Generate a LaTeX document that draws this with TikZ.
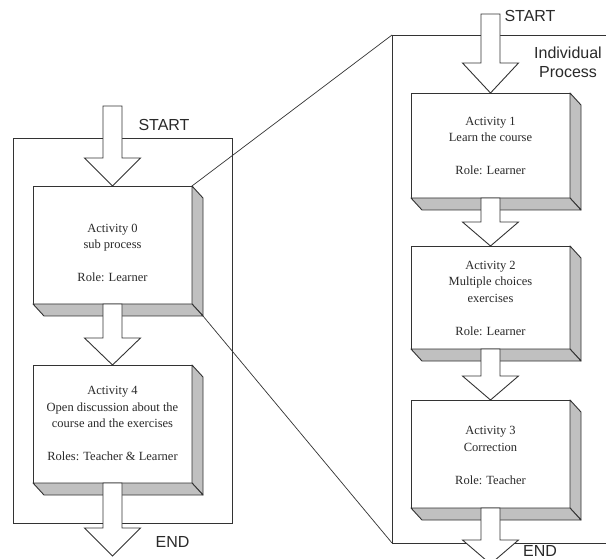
\documentclass[tikz,border=0pt]{standalone}
\usepackage{fontspec}
\setmainfont{Liberation Serif}
\newfontfamily\labelfont{Liberation Sans}
\usetikzlibrary{calc}
\definecolor{lc}{HTML}{333333}
\definecolor{sg}{HTML}{C0C0C0}
\definecolor{tc}{HTML}{2A2A2A}
\tikzset{
  actbox/.style={draw=lc, fill=white, line width=0.9pt, minimum width=159pt,
    inner sep=0pt, outer sep=0pt},
  acttext/.style={align=center, text=tc, inner sep=0pt,
    font=\fontsize{12.5}{16.5}\selectfont},
  shadeface/.style={fill=sg, draw=lc, line width=0.9pt, line join=round},
  flowarrow/.style={fill=white, draw=lc, line width=0.9pt, line join=miter},
  framestyle/.style={draw=lc, line width=0.9pt},
  zoomline/.style={draw=lc, line width=0.7pt},
  sidelabel/.style={font=\labelfont\fontsize{16}{19}\selectfont, text=tc,
    inner sep=0pt, align=center},
}
\newcommand\boxshadow[1]{%
  \draw[shadeface] (#1.north east) -- ++(11,12) -- ($(#1.south east)+(11,12)$)
    -- (#1.south east) -- cycle;
  \draw[shadeface] (#1.south west) -- ++(11,12) -- ($(#1.south east)+(11,12)$)
    -- (#1.south east) -- cycle;
}
\newcommand\blockarrow[3]{%
  \draw[flowarrow] let \p1=(#1), \p2=(#2) in
    (\x2-9.5pt,\y1) -- (\x2+9.5pt,\y1) -- (\x2+9.5pt,\y2+#3pt)
    -- (\x2+28pt,\y2+#3pt) -- (\x2,\y2) -- (\x2-28pt,\y2+#3pt)
    -- (\x2-9.5pt,\y2+#3pt) -- cycle;
}
\begin{document}
\begin{tikzpicture}[x=1pt,y=-1pt]
\useasboundingbox (0,0) rectangle (606,559);
\clip (0,0) rectangle (606,559);
\fill[white] (0,0) rectangle (606,559);

% ---------- left process ----------
\draw[framestyle] (13,138) rectangle (232,523);

\node[actbox, minimum height=118pt] (b0) at (112.5,245) {};
\node[actbox, minimum height=118pt] (b4) at (112.5,424) {};
\boxshadow{b0}
\boxshadow{b4}
\node[acttext] (t0) at (112.5,253) {Activity 0\\sub process\\\mbox{}\\Role: Learner};
\node[acttext] (t4) at (112.5,423.5) {Activity 4\\Open discussion about the\\course and the exercises\\\mbox{}\\Roles: Teacher \& Learner};

\coordinate (ls) at (112.5,106);
\coordinate (le) at (112.5,556);
\blockarrow{ls}{b0.north}{28}
\blockarrow{b0.south}{b4.north}{27}
\blockarrow{b4.south}{le}{28}

\node[sidelabel] (startl) at (164,125) {START};
\node[sidelabel] (endl) at (172.5,542) {END};

% ---------- right (individual) process ----------
\coordinate (ftl) at (392,35);
\coordinate (fbl) at (392,543);
\draw[framestyle] (606,35) -- (ftl) -- (fbl) -- (606,543);

\node[actbox, minimum height=105pt] (b1) at (490.5,145.5) {};
\node[actbox, minimum height=103pt] (b2) at (490.5,297.5) {};
\node[actbox, minimum height=108pt] (b3) at (490.5,454) {};
\boxshadow{b1}
\boxshadow{b2}
\boxshadow{b3}
\node[acttext] (t1) at (490.5,146) {Activity 1\\Learn the course\\\mbox{}\\Role: Learner};
\node[acttext] (t2) at (490.5,298) {Activity 2\\Multiple choices\\exercises\\\mbox{}\\Role: Learner};
\node[acttext] (t3) at (490.5,455.5) {Activity 3\\Correction\\\mbox{}\\Role: Teacher};

\coordinate (rs) at (490.5,14);
\coordinate (re) at (490.5,564);
\blockarrow{rs}{b1.north}{30}
\blockarrow{b1.south}{b2.north}{24}
\blockarrow{b2.south}{b3.north}{24}
\blockarrow{b3.south}{re}{24}

\node[sidelabel] (startr) at (530,16) {START};
\node[sidelabel] (endr) at (540,551) {END};
\node[sidelabel] (indiv) at (568,62) {Individual\\Process};

% ---------- zoom lines ----------
\draw[zoomline] (b0.north east) -- (ftl);
\draw[zoomline] ($(b0.south east)+(11,12)$) -- (fbl);
\end{tikzpicture}
\end{document}
